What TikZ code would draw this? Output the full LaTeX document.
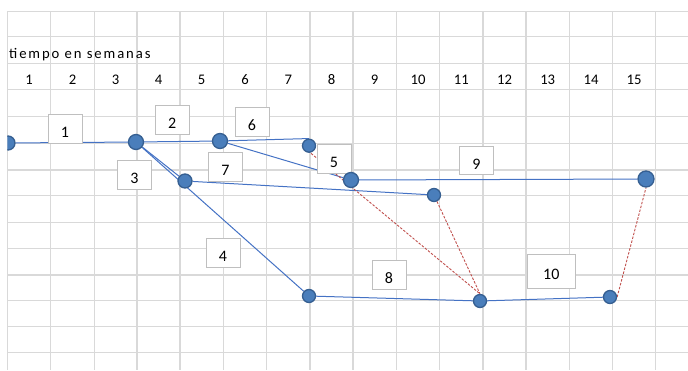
\documentclass[tikz,border=0pt]{standalone}
\usepackage{fontspec}
\setmainfont{Carlito}
\pgfdeclarelayer{gridlayer}
\pgfdeclarelayer{edgelayer}
\pgfdeclarelayer{boxlayer}
\pgfsetlayers{gridlayer,edgelayer,boxlayer,main}
\definecolor{gridc}{HTML}{D9D9D9}
\definecolor{edgec}{HTML}{4472C4}
\definecolor{redc}{HTML}{C0504D}
\definecolor{dotfill}{HTML}{4A7EBB}
\definecolor{dotdraw}{HTML}{365F91}
\definecolor{boxc}{HTML}{BFBFBF}
\tikzset{
  gridline/.style={draw=gridc, line width=1.3pt},
  dotnode/.style={circle, fill=dotfill, draw=dotdraw, line width=1.3pt, inner sep=0pt, minimum size=#1},
  edgeline/.style={draw=edgec, line width=1pt},
  depline/.style={draw=redc, line width=0.9pt, dash pattern=on 2.5pt off 1.5pt},
  lbl/.style={draw=boxc, fill=white, line width=0.8pt, minimum width=34pt, minimum height=28.5pt, inner sep=0pt, font=\fontsize{16}{16}\selectfont, text height=17pt, text depth=0pt},
  hdr/.style={anchor=base, inner sep=0pt, font=\fontsize{14.67}{16}\selectfont}
}
\begin{document}
\begin{tikzpicture}[x=1pt, y=-1pt]
\useasboundingbox (0,0) rectangle (688,370);
% grid
\begin{pgfonlayer}{gridlayer}
\foreach \yy in {11.7,36.7,63.3,89.3,116.7,143.3,170,195.7,222.7,248.7,275,300.7,326.7,352.7}
  \draw[gridline] (7.3,\yy) -- (688,\yy);
\foreach \xx in {7.3,50.7,94.3,137,180,223.3,266.7,310,353,396.3,439.7,483,526,569.3,612.7,655.3}
  \draw[gridline] (\xx,11.7) -- (\xx,370);
\end{pgfonlayer}
% title and week numbers
\node[anchor=base west, inner sep=0pt, font=\fontsize{14.67}{16}\selectfont\addfontfeature{LetterSpace=13}] (title) at (9,58.6) {tiempo en semanas};
\foreach \k/\cx in {1/29,2/72.5,3/115.7,4/158.5,5/201.7,6/245,7/288.3,8/331.5,9/374.7,10/418,11/461.3,12/504.5,13/547.7,14/591,15/634}
  \node[hdr] (w\k) at (\cx,84.7) {\k};
% events
\begin{scope}
\clip (7.3,0) rectangle (688,370);
\node[dotnode=14pt] (A) at (8,143) {};
\end{scope}
\node[dotnode=15pt] (B) at (136,142) {};
\node[dotnode=15pt] (C) at (220,141) {};
\node[dotnode=13pt] (D) at (309,145.7) {};
\node[dotnode=14pt] (E) at (185,181) {};
\node[dotnode=15pt] (F) at (351,180) {};
\node[dotnode=13pt] (G) at (434,195) {};
\node[dotnode=16pt] (H) at (646,179) {};
\node[dotnode=13pt] (I) at (309,296) {};
\node[dotnode=13pt] (J) at (480,301) {};
\node[dotnode=13pt] (K) at (610,297) {};
% activities
\begin{pgfonlayer}{edgelayer}
\draw[edgeline] (A) -- (B);
\draw[edgeline] (B) -- (C);
\draw[edgeline] (C) -- (D.north);
\draw[edgeline] (B) -- (E);
\draw[edgeline] (B) -- (I);
\draw[edgeline] (C) -- (F);
\draw[edgeline] (E) -- (G);
\draw[edgeline] (F) -- (H);
\draw[edgeline] (I) -- (J);
\draw[edgeline] (J) -- (K);
\draw[depline] (D.west) -- (J.north);
\draw[depline] (G) -- (J.north);
\draw[depline] (K.east) -- (H.south);
\end{pgfonlayer}
% labels
\begin{pgfonlayer}{boxlayer}
\node[lbl] (l1) at (65,129) {1};
\node[lbl] (l2) at (172.3,120) {2};
\node[lbl] (l6) at (252,121.7) {6};
\node[lbl] (l3) at (134.5,174.7) {3};
\node[lbl] (l7) at (225.5,166.7) {7};
\node[lbl] (l5) at (334,158.8) {5};
\node[lbl] (l9) at (476.3,160.5) {9};
\node[lbl] (l4) at (223,253) {4};
\node[lbl] (l8) at (389,274.8) {8};
\node[lbl, minimum width=48pt, minimum height=34pt] (l10) at (551.3,271.3) {10};
\end{pgfonlayer}
\end{tikzpicture}
\end{document}
